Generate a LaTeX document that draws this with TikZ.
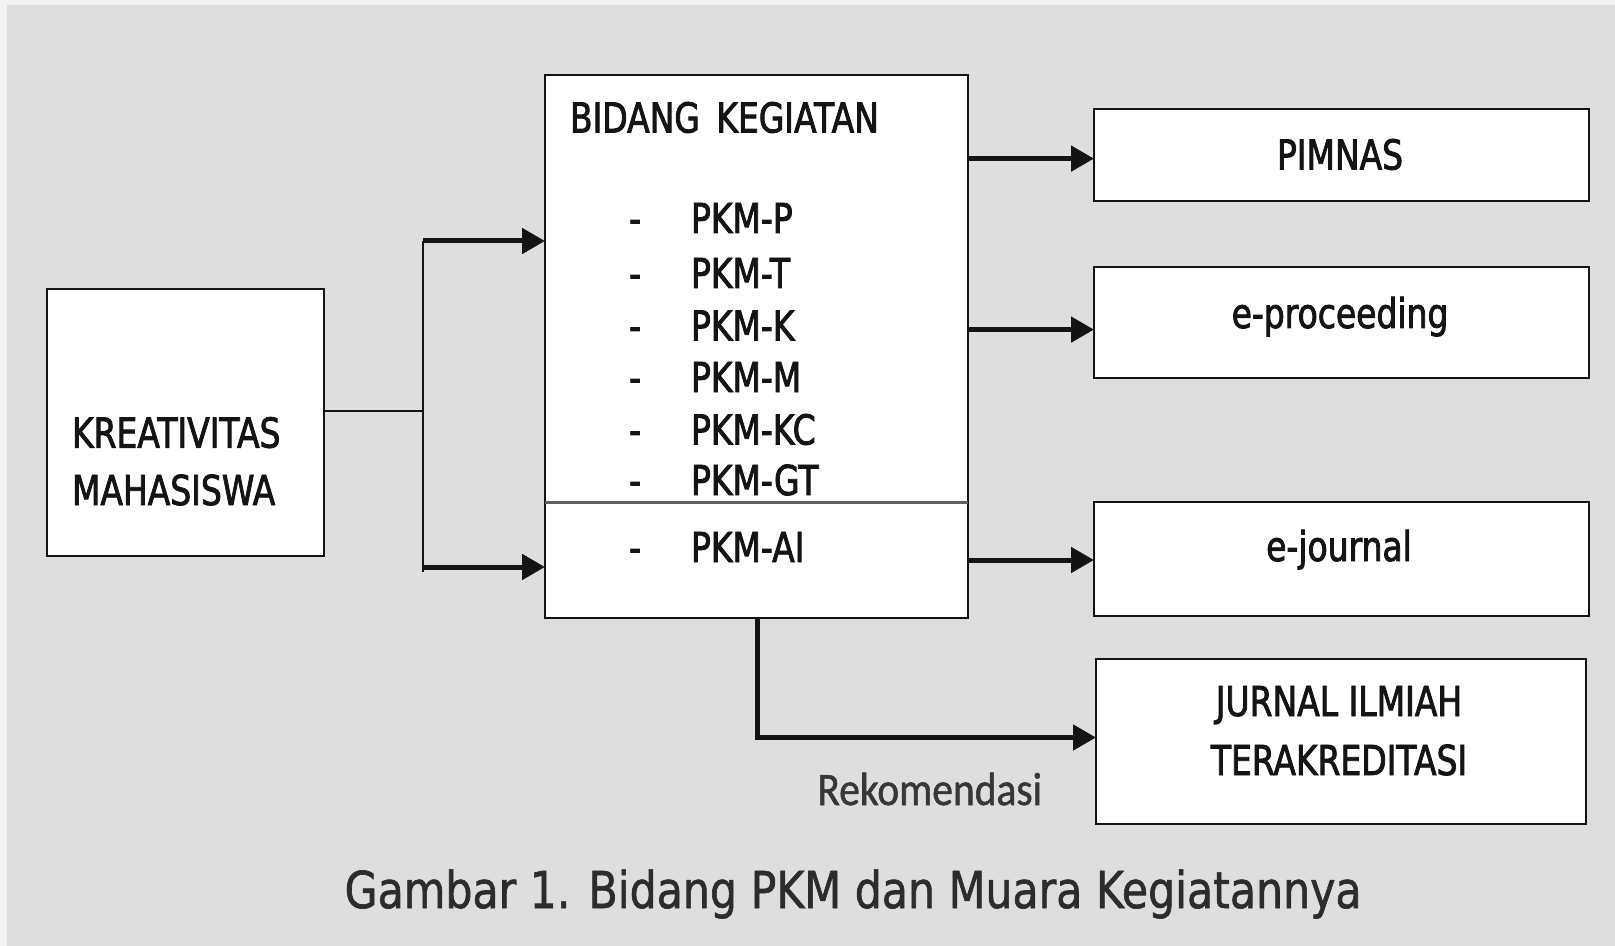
\documentclass[tikz,border=0pt]{standalone}
\usepackage{fontspec}
\setmainfont{DejaVu Sans}
\newfontfamily\boxfont[FakeStretch=0.80,FakeBold=2]{DejaVu Sans}
\newfontfamily\capfont[FakeStretch=0.84,FakeBold=1.2]{DejaVu Sans}
\newfontfamily\rekfont[FakeStretch=0.89,FakeBold=1.2]{Carlito}
\usetikzlibrary{arrows.meta}
\definecolor{bgray}{HTML}{DEDEDE}
\definecolor{outerc}{HTML}{F4F4F4}
\definecolor{ink}{HTML}{141414}
\definecolor{divc}{HTML}{606060}
\tikzset{
  box/.style={draw=ink, fill=white, line width=1.2pt, inner sep=0pt, outer sep=0pt, rectangle},
  txt/.style={font=\boxfont\fontsize{20.6pt}{28.5pt}\selectfont, text=ink, inner sep=0pt, outer sep=0pt},
  conn/.style={draw=ink, line width=2.5pt},
  thinconn/.style={draw=ink, line width=1.1pt},
  arr/.style={conn, -{Triangle[length=11.5pt,width=12.5pt]}},
}
\begin{document}
\begin{tikzpicture}[x=0.5pt,y=-0.5pt]
\useasboundingbox (0,0) rectangle (1615,946);
\fill[outerc] (0,0) rectangle (1615,946);
\fill[bgray] (7,5) rectangle (1615,946);

% boxes
\node[box, minimum width=138.5pt, minimum height=133.5pt] (kre) at (185.5,422.5) {};
\node[box, minimum width=211.5pt, minimum height=213.5pt] (bidtop) at (756.5,288.5) {};
\node[box, minimum width=211.5pt, minimum height=58pt] (ai) at (756.5,560) {};
\draw[line width=1.5pt, draw=divc] (ai.north west) -- (ai.north east);
\node[box, minimum width=247.5pt, minimum height=46pt] (pim) at (1341.5,155) {};
\node[box, minimum width=247.5pt, minimum height=55.5pt] (epro) at (1341.5,322.5) {};
\node[box, minimum width=247.5pt, minimum height=57pt] (ejo) at (1341.5,559) {};
\node[box, minimum width=245pt, minimum height=82.5pt] (jur) at (1341,741.5) {};

% texts
\node[txt, anchor=base west] (kre1) at (72,447.6) {KREATIVITAS};
\node[txt, anchor=base west] (kre2) at (72,505) {MAHASISWA};
\node[txt, anchor=base west] (bidlbl) at (570,132.5) {BIDANG\hspace{3pt} KEGIATAN};
\foreach \lab/\yb [count=\i] in {PKM-P/233, PKM-T/288, PKM-K/340.5, PKM-M/392, PKM-KC/444.5, PKM-GT/495, PKM-AI/562} {
  \node[txt, anchor=base] (dash\i) at (635,\yb) {-};
  \node[txt, anchor=base west] (item\i) at (691,\yb) {\lab};
}
\node[txt, anchor=base] (pimlbl) at (1340,169.5) {PIMNAS};
\node[txt, anchor=base] (eprolbl) at (1340,328) {e-proceeding};
\node[txt, anchor=base] (ejolbl) at (1339,561) {e-journal};
\node[txt, anchor=base] (jur1) at (1339,716) {JURNAL ILMIAH};
\node[txt, anchor=base] (jur2) at (1339,775) {TERAKREDITASI};
\node[anchor=base west, font=\rekfont\fontsize{23.3pt}{28pt}\selectfont, text=ink!85, inner sep=0pt] (rek) at (817,805) {Rekomendasi};
\node[anchor=base, font=\capfont\fontsize{25.4pt}{30pt}\selectfont, text=ink!90, inner sep=0pt] (cap) at (853,908) {Gambar 1. Bidang PKM dan Muara Kegiatannya};

% connectors
\coordinate (brmid) at (423,411);
\coordinate (brtop) at (423,241);
\coordinate (brbot) at (423,567);
\coordinate (brend) at (423,572);
\draw[thinconn] (kre.east |- brmid) -- (brmid);
\draw[thinconn] (brtop) -- (brend);
\draw[arr] (brtop) -- (brtop -| bidtop.west);
\draw[arr] (brbot) -- (brbot -| ai.west);

\coordinate (r1) at (0,158.6);
\coordinate (r2) at (0,329.6);
\coordinate (r3) at (0,560);
\draw[arr] (bidtop.east |- r1) -- (pim.west |- r1);
\draw[arr] (bidtop.east |- r2) -- (epro.west |- r2);
\draw[arr] (ai.east |- r3) -- (ejo.west |- r3);

\coordinate (rk) at (757,737.5);
\draw[arr] (ai.south -| rk) -- (rk) -- (rk -| jur.west);
\end{tikzpicture}
\end{document}
